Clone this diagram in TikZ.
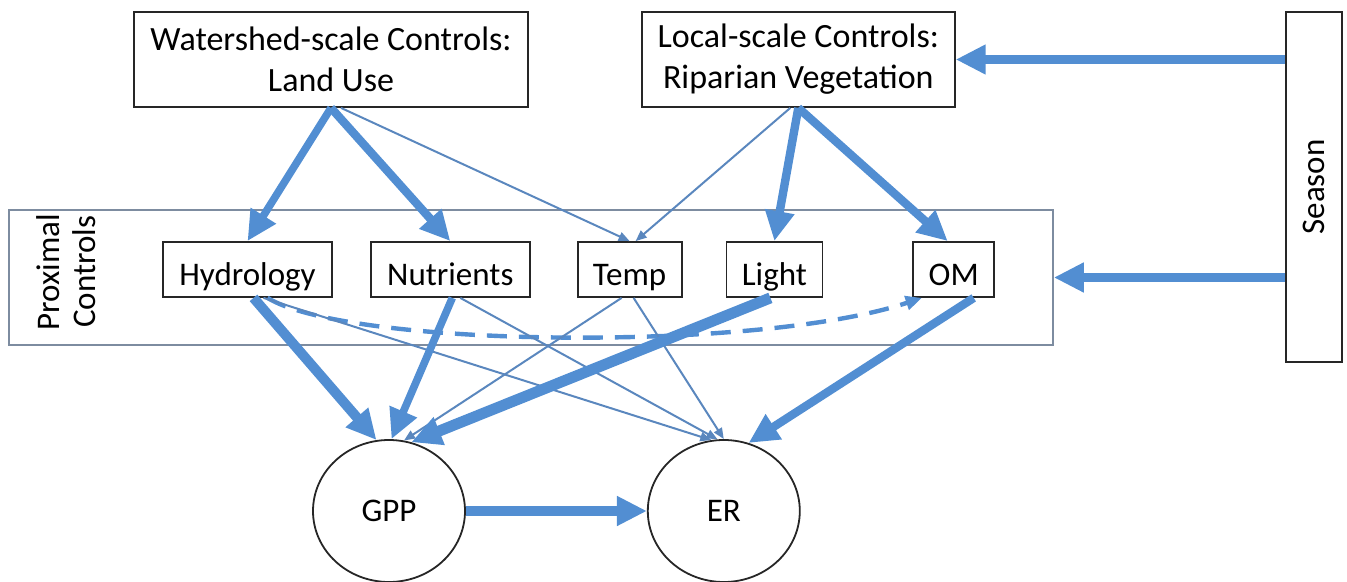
\documentclass[tikz,border=0pt]{standalone}
\usepackage{fontspec}
\setmainfont{Carlito}
\usepackage{tikz}
\usetikzlibrary{positioning}
\usetikzlibrary{shapes.geometric}
\usetikzlibrary{arrows.meta}
\definecolor{arrowblue}{RGB}{82,142,210}
\definecolor{thinblue}{RGB}{90,135,190}
\definecolor{framegray}{RGB}{125,140,160}

\begin{document}
\begin{tikzpicture}[x=0.5pt,y=-0.5pt,align=center,
box/.style={draw=black!85,line width=0.9pt,inner sep=0pt},
topbox/.style={box,font=\fontsize{17}{20.5}\selectfont,minimum height=47.5pt},
proxbox/.style={box,font=\fontsize{16.5}{18}\selectfont,minimum height=27.5pt,text height=16pt,text depth=0pt},
bubble/.style={box,ellipse,minimum width=76pt,minimum height=71pt,font=\fontsize{16.5}{18}\selectfont},
label/.style={rotate=90,inner sep=0pt,font=\fontsize{16.5}{18}\selectfont},
arr/.style={draw=arrowblue,line width=4.2pt,-{Triangle[length=15pt,width=14pt]}},
arrthin/.style={draw=thinblue,line width=1pt,-{Triangle[length=5.5pt,width=4.5pt]}},
arrdash/.style={draw=arrowblue,line width=2.2pt,dash pattern=on 10pt off 6pt,-{Triangle[length=8pt,width=7pt]}}
]
\useasboundingbox (0,0) rectangle (1347,582);
%--
\node[topbox,minimum width=197pt] (ws) at (331,59.5) {Watershed-scale Controls:\\Land Use};
\node[topbox,minimum width=156.5pt,right=56pt of ws] (loc) {Local-scale Controls:\\Riparian Vegetation};
\node[box,minimum width=28pt,minimum height=175pt] (season) at (1314,187) {};
\node[label] (seasontxt) at (season.center) {Season};
%--
\node[box,draw=framegray,line width=0.8pt,minimum width=522pt,minimum height=67.5pt] (prox) at (531,277.5) {};
\node[label] (proxtxt) at (66,272) {Proximal\\Controls};
\node[proxbox,minimum width=84.5pt] (hyd) at (247.5,269.5) {Hydrology};
\node[proxbox,minimum width=79.5pt,right=18.5pt of hyd] (nut) {Nutrients};
\node[proxbox,minimum width=52pt,right=23pt of nut] (temp) {Temp};
\node[proxbox,minimum width=48pt,right=21.5pt of temp] (light) {Light};
\node[proxbox,minimum width=40.5pt,right=44.5pt of light] (om) {OM};
%--
\node[bubble] (gpp) at (389,511) {GPP};
\node[bubble,right=90.5pt of gpp] (er) {ER};
%--
\draw[arr,line width=3.8pt] (ws.south) -- (hyd.north);
\draw[arr] (ws.south) -- (nut.north);
\draw[arrthin] ([xshift=5pt]ws.south) -- (temp.north);
\draw[arrthin] ([xshift=-4pt]loc.south) -- ([xshift=3pt]temp.north);
\draw[arr] (loc.south) -- (light.north);
\draw[arr] (loc.south) -- ([xshift=-3pt]om.north);
\draw[arr] (season.west |- loc.east) -- (loc.east);
\draw[arr] (season.west |- prox.east) -- (prox.east);
%--
\draw[arrdash] ([xshift=10pt]hyd.south) .. controls (350,348) and (760,352) .. ([xshift=-16pt]om.south);
\draw[arrthin] ([xshift=8pt]hyd.south) -- (er.100);
\draw[arrthin] ([xshift=5pt]nut.south) -- (er.95);
\draw[arrthin] ([xshift=2pt]temp.south) -- (er.90);
\draw[arrthin] ([xshift=-4pt]temp.south) -- (gpp.78);
\draw[arr,line width=5pt] ([xshift=3pt]hyd.south) -- (gpp.100);
\draw[arr,line width=3.8pt] ([xshift=1pt]nut.south) -- (gpp.88);
\draw[arr,line width=5.5pt] ([xshift=-2pt]light.south) -- (gpp.72);
\draw[arr] ([xshift=10pt]om.south) -- (er.70);
\draw[arr,line width=5pt] (gpp.east) -- (er.west);
\end{tikzpicture}
\end{document}
